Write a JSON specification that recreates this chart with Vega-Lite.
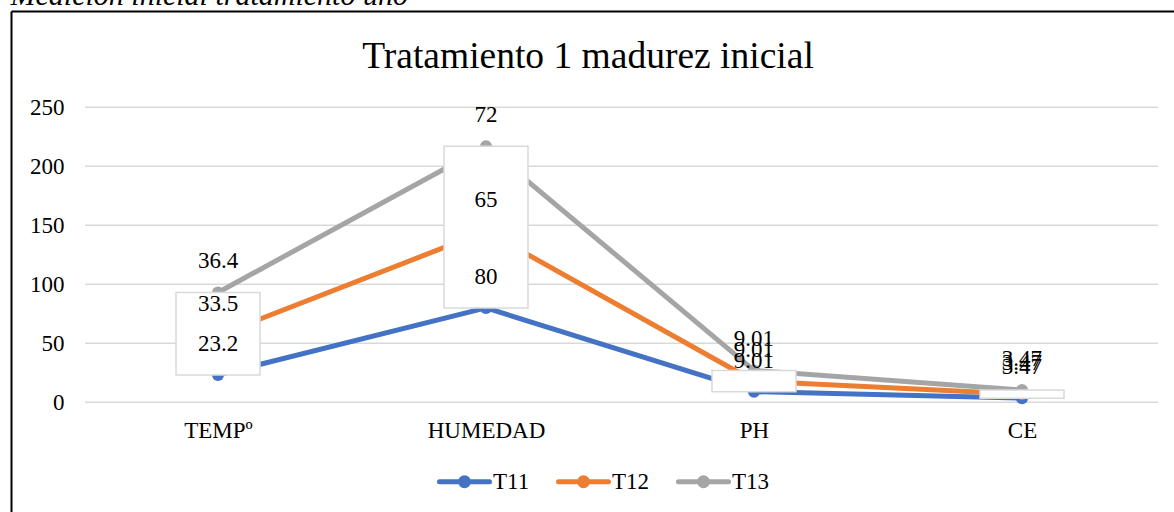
{
  "$schema": "https://vega.github.io/schema/vega-lite/v6.json",
  "width": 1163,
  "height": 501,
  "autosize": {"type": "none"},
  "padding": {"left": 11, "top": 11, "right": 0, "bottom": 0},
  "background": "white",
  "config": {"view": {"stroke": null}, "font": "Liberation Serif"},
  "data": {
    "values": [
      {"cat": "TEMPº", "series": "T11", "value": 23.2},
      {"cat": "HUMEDAD", "series": "T11", "value": 80},
      {"cat": "PH", "series": "T11", "value": 9.01},
      {"cat": "CE", "series": "T11", "value": 3.47},
      {"cat": "TEMPº", "series": "T12", "value": 33.5},
      {"cat": "HUMEDAD", "series": "T12", "value": 65},
      {"cat": "PH", "series": "T12", "value": 9.01},
      {"cat": "CE", "series": "T12", "value": 3.47},
      {"cat": "TEMPº", "series": "T13", "value": 36.4},
      {"cat": "HUMEDAD", "series": "T13", "value": 72},
      {"cat": "PH", "series": "T13", "value": 9.01},
      {"cat": "CE", "series": "T13", "value": 3.47}
    ]
  },
  "resolve": {"axis": {"x": "independent", "y": "independent"}},
  "layer": [
    {
      "data": {"values": [{"tick": 0}, {"tick": 50}, {"tick": 100}, {"tick": 150}, {"tick": 200}, {"tick": 250}]},
      "mark": {"type": "rule", "color": "#d9d9d9", "strokeWidth": 1.5, "xOffset": -133, "x2Offset": 136},
      "encoding": {
        "x": {
          "datum": "TEMPº", "type": "nominal",
          "scale": {"type": "point", "domain": ["TEMPº", "HUMEDAD", "PH", "CE"], "padding": 0.6698, "align": 0.5766},
          "axis": {
            "orient": "top", "domain": true, "domainColor": "black", "domainWidth": 2,
            "ticks": false, "labels": false, "grid": false,
            "title": "Medición inicial tratamiento uno",
            "titleX": -1, "titleY": -7, "titleAlign": "left", "titleAnchor": "start", "titleBaseline": "alphabetic",
            "titleFont": "Liberation Serif", "titleFontSize": 30, "titleFontStyle": "italic", "titleFontWeight": "normal", "titleColor": "black"
          }
        },
        "x2": {"datum": "CE"},
        "y": {
          "field": "tick", "type": "quantitative",
          "scale": {"domain": [-92.97, 331.61], "nice": false, "zero": false},
          "axis": {
            "orient": "left", "offset": 0, "domain": true, "domainColor": "black", "domainWidth": 2,
            "ticks": false, "tickSize": 0, "grid": false, "title": null,
            "values": [0, 50, 100, 150, 200, 250],
            "labelPadding": -53, "labelAlign": "right", "labelBaseline": "middle",
            "labelFont": "Liberation Serif", "labelFontSize": 23, "labelColor": "black"
          }
        }
      }
    },
    {
      "transform": [{"stack": "value", "groupby": ["cat"], "sort": [{"field": "series", "order": "ascending"}], "as": ["v0", "v1"]}],
      "mark": {"type": "line", "strokeWidth": 5, "strokeJoin": "round", "strokeCap": "round", "point": {"filled": true, "size": 145, "opacity": 1}},
      "encoding": {
        "x": {
          "field": "cat", "type": "nominal",
          "scale": {"type": "point", "domain": ["TEMPº", "HUMEDAD", "PH", "CE"], "padding": 0.6698, "align": 0.5766},
          "axis": {
            "orient": "bottom", "offset": -109.7, "domain": false, "ticks": false, "tickSize": 0, "grid": false,
            "labelPadding": 17, "labelAngle": 0, "labelFont": "Liberation Serif", "labelFontSize": 23, "labelColor": "black",
            "title": "Tratamiento 1 madurez inicial",
            "titleX": 576.5, "titleY": -335.3, "titleAlign": "center", "titleAnchor": "middle", "titleBaseline": "alphabetic",
            "titleFont": "Liberation Serif", "titleFontSize": 37.5, "titleFontWeight": "normal", "titleColor": "black"
          }
        },
        "y": {"field": "v1", "type": "quantitative", "scale": {"domain": [-92.97, 331.61], "nice": false, "zero": false}, "axis": null},
        "color": {
          "field": "series", "type": "nominal",
          "scale": {"domain": ["T11", "T12", "T13"], "range": ["#4472C4", "#ED7D31", "#A5A5A5"]},
          "legend": {
            "orient": "none", "legendX": 426, "legendY": 443, "direction": "horizontal", "title": null,
            "symbolType": "M-1,0L1,0M0.16,0A0.16,0.16,0,1,1,-0.16,0A0.16,0.16,0,1,1,0.16,0Z",
            "symbolSize": 2500, "symbolStrokeWidth": 5,
            "labelFont": "Liberation Serif", "labelFontSize": 23, "labelColor": "black",
            "labelOffset": 1, "columnPadding": 18, "padding": 0,
            "encode": {"symbols": {"update": {
              "fill": {"scale": "color", "field": "value"},
              "stroke": {"scale": "color", "field": "value"},
              "strokeWidth": {"value": 5},
              "strokeCap": {"value": "round"},
              "opacity": {"value": 1}
            }}}
          }
        }
      }
    },
    {
      "transform": [
        {"stack": "value", "groupby": ["cat"], "sort": [{"field": "series", "order": "ascending"}], "as": ["v0", "v1"]},
        {"aggregate": [{"op": "min", "field": "v1", "as": "lo"}, {"op": "max", "field": "v1", "as": "hi"}], "groupby": ["cat"]}
      ],
      "mark": {"type": "bar", "width": 84, "fill": "white", "stroke": "#d9d9d9", "strokeWidth": 1.5},
      "encoding": {
        "x": {"field": "cat", "type": "nominal", "axis": null},
        "y": {"field": "lo", "type": "quantitative", "axis": null},
        "y2": {"field": "hi"}
      }
    },
    {
      "transform": [{"stack": "value", "groupby": ["cat"], "sort": [{"field": "series", "order": "ascending"}], "as": ["v0", "v1"]}],
      "mark": {"type": "text", "dy": -31, "font": "Liberation Serif", "fontSize": 23, "color": "black", "baseline": "middle", "align": "center"},
      "encoding": {
        "x": {"field": "cat", "type": "nominal", "axis": null},
        "y": {"field": "v1", "type": "quantitative", "axis": null},
        "text": {"field": "value", "type": "nominal"}
      }
    }
  ]
}
